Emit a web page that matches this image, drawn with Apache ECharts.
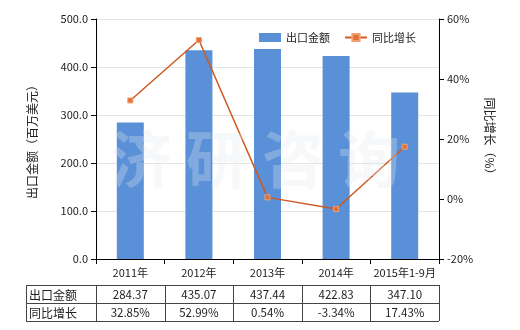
<!DOCTYPE html>
<html><head><meta charset="utf-8">
<script src="https://cdn.jsdelivr.net/npm/echarts@6/dist/echarts.min.js"></script>
<style>html,body{margin:0;padding:0;background:#fff}#c{width:520px;height:330px}</style>
</head><body><div id="c"></div>
<script>
const categories = ['2011年','2012年','2013年','2014年','2015年1-9月'];
const exportValues = [284.37, 435.07, 437.44, 422.83, 347.10];
const growthValues = [32.85, 52.99, 0.54, -3.34, 17.43];
const exportLabels = ['284.37','435.07','437.44','422.83','347.10'];
const growthLabels = ['32.85%','52.99%','0.54%','-3.34%','17.43%'];
const seriesNames = ['出口金额','同比增长'];

(function(){
const FONT = '"Noto Sans CJK SC", "Noto Sans", sans-serif';
const chart = echarts.init(document.getElementById('c'), null, {renderer:'canvas'});
const txt = {color:'#222', fontSize:11, fontFamily:FONT};
const watermark = {type:'text', left:110, top:128, z:100, silent:true,
    style:{text:'济 研 咨 询', fill:'rgba(225,232,238,0.3)', font:'bold 62px '+FONT}};
chart.setOption({
  animation:false,
  textStyle:{fontFamily:FONT},
  grid:{left:96, right:81, top:19, bottom:71, containLabel:false},
  legend:{
    top:27, left:254, itemWidth:22, itemHeight:9, itemGap:14,
    textStyle:{color:'#222', fontSize:11, fontFamily:FONT},
    data:[{name:seriesNames[0], icon:'rect'},{name:seriesNames[1]}]
  },
  xAxis:{
    type:'category', data:categories,
    axisLine:{lineStyle:{color:'#000'}},
    axisTick:{show:true, alignWithLabel:false, lineStyle:{color:'#000'}},
    axisLabel:{...txt, margin:8, interval:0}
  },
  yAxis:[{
    type:'value', min:0, max:500, interval:100,
    name:'出口金额（百万美元）', nameLocation:'middle', nameGap:58, nameRotate:90,
    nameTextStyle:{color:'#222', fontSize:12, fontFamily:FONT},
    axisLine:{show:true, lineStyle:{color:'#000'}},
    axisTick:{show:true, lineStyle:{color:'#000'}},
    axisLabel:{...txt, formatter:v=>v.toFixed(1)},
    splitLine:{lineStyle:{color:'#e4e4e4'}}
  },{
    type:'value', min:-20, max:60, interval:20,
    name:'同比增长（%）', nameLocation:'middle', nameGap:42, nameRotate:-90,
    nameTextStyle:{color:'#222', fontSize:12, fontFamily:FONT},
    axisLine:{show:true, lineStyle:{color:'#000'}},
    axisTick:{show:true, lineStyle:{color:'#000'}},
    axisLabel:{...txt, formatter:v=>v+'%'},
    splitLine:{show:false}
  }],
  graphic:[watermark],
  series:[{
    name:seriesNames[0], type:'bar', data:exportValues, barWidth:27,
    itemStyle:{color:'#5990d8'}
  },{
    name:seriesNames[1], type:'line', yAxisIndex:1, data:growthValues,
    symbol:'rect', symbolSize:5,
    lineStyle:{color:'#cc5a22', width:1.5},
    itemStyle:{color:'#e0703a', borderColor:'#f0a070', borderWidth:1}
  }]
});

const g = [];
const p0 = chart.convertToPixel({xAxisIndex:0}, 0);
const p1 = chart.convertToPixel({xAxisIndex:0}, 1);
const cw = p1 - p0;
const tableLeft = 26, firstColRight = p0 - cw/2;
const tableTop = 285, rowH = 18;
const tableRight = firstColRight + cw*categories.length;
const ls = {stroke:'#444', lineWidth:1};
for (let r=0;r<=2;r++) g.push({type:'line', shape:{x1:tableLeft, y1:tableTop+r*rowH+0.5, x2:tableRight, y2:tableTop+r*rowH+0.5}, style:ls});
const xs = [tableLeft, firstColRight];
categories.forEach((c,i)=>xs.push(firstColRight + cw*(i+1)));
xs.forEach(x=>g.push({type:'line', shape:{x1:Math.round(x)+0.5, y1:tableTop, x2:Math.round(x)+0.5, y2:tableTop+2*rowH}, style:ls}));
const rows = [[seriesNames[0], exportLabels],[seriesNames[1], growthLabels]];
rows.forEach((row,r)=>{
  const cy = tableTop + r*rowH + rowH/2 + 1;
  g.push({type:'text', x:tableLeft+3, y:cy, style:{text:row[0], fill:'#222', font:'12px '+FONT, textVerticalAlign:'middle'}});
  row[1].forEach((t,i)=>{
    const cx = chart.convertToPixel({xAxisIndex:0}, i);
    g.push({type:'text', x:cx, y:cy, style:{text:t, fill:'#222', font:'11.5px '+FONT, textAlign:'center', textVerticalAlign:'middle'}});
  });
});
chart.setOption({graphic:[watermark].concat(g)});
})();
</script></body></html>
